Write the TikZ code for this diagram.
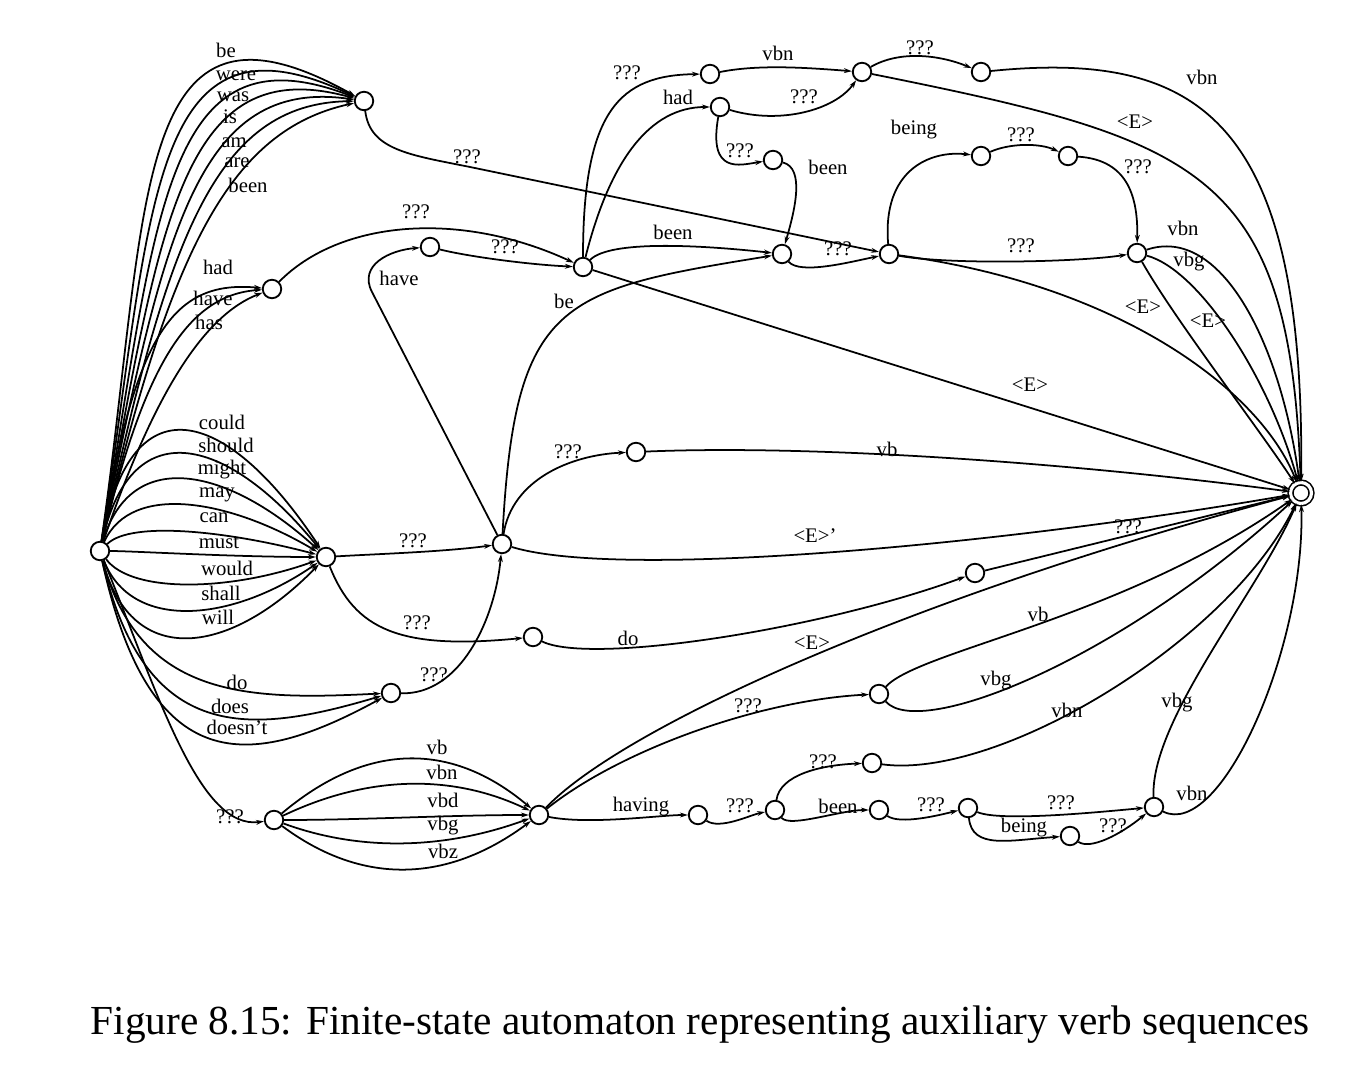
\documentclass[tikz,border=0pt]{standalone}
\usepackage{fontspec}
\setmainfont{Liberation Serif}
\usetikzlibrary{arrows.meta}
\begin{document}
\begin{tikzpicture}[x=0.02cm,y=-0.02cm,
  st/.style={circle,draw,line width=1.05pt,minimum size=0.37cm,inner sep=0pt,fill=white},
  fin/.style={circle,draw,line width=0.9pt,double,double distance=1.8pt,minimum size=0.42cm,inner sep=0pt,fill=white},
  e/.style={line width=1pt,-{Stealth[length=4.5pt,width=2.8pt]}},
  lb/.style={font=\fontsize{11.8}{13}\selectfont,inner sep=0pt},
  captext/.style={font=\fontsize{23.5}{28}\selectfont,inner sep=0pt}]
\fill[white] (0,0) rectangle (1366,1070);
\useasboundingbox (0,0) rectangle (1366,1070);
% states
\node[st] (S) at (100,551) {};
\node[st] (B) at (364,101) {};
\node[st] (H) at (272,289) {};
\node[st] (M) at (326,557) {};
\node[st] (D) at (391,693) {};
\node[st] (Q) at (274,820) {};
\node[fin] (F) at (1301,493) {};
\node[st] (A1) at (430,247) {};
\node[st] (N1) at (583,267) {};
\node[st] (N2) at (710,74) {};
\node[st] (N3) at (720,107) {};
\node[st] (N4) at (862,72) {};
\node[st] (N5) at (981,72) {};
\node[st] (N6) at (773,160) {};
\node[st] (N7) at (782,254) {};
\node[st] (N8) at (889,254) {};
\node[st] (N9) at (981,156) {};
\node[st] (N10) at (1068,156) {};
\node[st] (N11) at (1137,253) {};
\node[st] (P) at (502,544) {};
\node[st] (V1) at (636,452) {};
\node[st] (Do1) at (533,637) {};
\node[st] (R1) at (975,573) {};
\node[st] (G1) at (879,694) {};
\node[st] (T) at (539,815) {};
\node[st] (K1) at (698,815) {};
\node[st] (K2) at (775,810) {};
\node[st] (K3) at (872,763) {};
\node[st] (K4) at (879,810) {};
\node[st] (K5) at (968,808) {};
\node[st] (K6) at (1070,836) {};
\node[st] (K7) at (1154,807) {};
\coordinate (bk) at (470,167);
\coordinate (hk) at (372,292);
% fans from the start state
\foreach \a/\b/\c/\d in {150/200/130/-30, 153/208/147/-3, 157/217/163/23, 160/225/180/50, 163/233/197/77, 167/242/213/103, 170/250/230/130}
  \draw[e] (S) .. controls (\a,\b) and (\c,\d) .. (B);
\foreach \a/\b/\c/\d in {135/330/175/280, 145/360/190/295, 155/390/205/315}
  \draw[e] (S) .. controls (\a,\b) and (\c,\d) .. (H);
\foreach \b/\d in {372/414, 406/441, 443/471, 481/501, 520/532, 551/557, 594/591, 632/622, 672/654}
  \draw[e] (S) .. controls (132,\b) and (232,\d) .. (M);
\foreach \a/\b/\c/\d in {140/700/250/700, 145/745/250/735, 150/780/250/770}
  \draw[e] (S) .. controls (\a,\b) and (\c,\d) .. (D);
\draw[e] (S) .. controls (160,700) and (200,830) .. (Q);
\foreach \b/\d in {744/739, 777/772, 820/815, 853/848, 887/882}
  \draw[e] (Q) .. controls (364,\b) and (449,\d) .. (T);
% upper part
\draw[e] (B) .. controls (370,150) and (410,155) .. (bk) -- (N8);
\draw[e] (H) .. controls (340,220) and (460,210) .. (N1);
\draw[e] (A1) .. controls (470,257) and (533,265) .. (N1);
\draw[e] (P) -- (hk) .. controls (358,265) and (390,250) .. (A1);
\draw[e] (P) .. controls (515,300) and (560,290) .. (N7);
\draw[e] (N1) .. controls (583,110) and (620,75) .. (N2);
\draw[e] (N1) .. controls (610,160) and (650,107) .. (N3);
\draw[e] (N1) .. controls (610,240) and (700,245) .. (N7);
\draw[e] (N1) -- (F);
\draw[e] (N2) .. controls (760,64) and (810,68) .. (N4);
\draw[e] (N3) .. controls (780,125) and (835,110) .. (N4);
\draw[e] (N3) .. controls (708,175) and (740,165) .. (N6);
\draw[e] (N6) .. controls (805,168) and (795,210) .. (N7);
\draw[e] (N4) .. controls (900,50) and (940,55) .. (N5);
\draw[e] (N4) .. controls (1200,140) and (1290,170) .. (F);
\draw[e] (N5) .. controls (1200,50) and (1305,120) .. (F);
\draw[e] (N7) .. controls (800,275) and (850,262) .. (N8);
\draw[e] (N8) .. controls (882,170) and (930,150) .. (N9);
\draw[e] (N9) .. controls (1010,143) and (1040,143) .. (N10);
\draw[e] (N10) .. controls (1130,160) and (1138,200) .. (N11);
\draw[e] (N8) .. controls (950,265) and (1080,262) .. (N11);
\draw[e] (N8) .. controls (1120,285) and (1260,390) .. (F);
\draw[e] (N11) .. controls (1220,225) and (1280,340) .. (F);
\draw[e] (N11) .. controls (1200,270) and (1270,380) .. (F);
\draw[e] (N11) .. controls (1175,320) and (1260,430) .. (F);
% middle part
\draw[e] (M) .. controls (376,554) and (442,552) .. (P);
\draw[e] (M) .. controls (355,630) and (400,650) .. (Do1);
\draw[e] (D) .. controls (460,695) and (495,620) .. (P);
\draw[e] (P) .. controls (512,480) and (570,455) .. (V1);
\draw[e] (V1) .. controls (800,445) and (1050,460) .. (F);
\draw[e] (P) .. controls (620,580) and (1000,545) .. (F);
\draw[e] (Do1) .. controls (590,665) and (820,630) .. (R1);
\draw[e] (R1) -- (F);
% lower part
\draw[e] (T) .. controls (620,730) and (900,600) .. (F);
\draw[e] (T) .. controls (620,750) and (760,700) .. (G1);
\draw[e] (G1) .. controls (920,650) and (1120,620) .. (F);
\draw[e] (G1) .. controls (920,740) and (1120,660) .. (F);
\draw[e] (T) .. controls (590,825) and (660,815) .. (K1);
\draw[e] (K1) .. controls (720,830) and (750,815) .. (K2);
\draw[e] (K2) .. controls (780,775) and (820,765) .. (K3);
\draw[e] (K2) .. controls (790,828) and (840,810) .. (K4);
\draw[e] (K3) .. controls (1000,780) and (1230,640) .. (F);
\draw[e] (K4) .. controls (900,825) and (940,815) .. (K5);
\draw[e] (K5) .. controls (1000,822) and (1100,812) .. (K7);
\draw[e] (K5) .. controls (972,850) and (1010,840) .. (K6);
\draw[e] (K6) .. controls (1090,850) and (1120,835) .. (K7);
\draw[e] (K7) .. controls (1150,720) and (1260,590) .. (F);
\draw[e] (K7) .. controls (1220,840) and (1305,650) .. (F);
% labels
\foreach \x/\y/\txt [count=\i] in {
 226/50/be, 236/76/were, 233/97/was, 230/117/is, 234/143/am, 237/163/are, 248/185/been,
 218/267/had, 213/298/have, 209/322/has,
 222/422/could, 226/445/should, 222/470/might, 217/495/may, 214/518/can, 219/543/must, 227/568/would, 221/593/shall, 218/617/will,
 237/682/do, 230/706/does, 237/727/doesn't, 230/817/???,
 437/747/vb, 442/772/vbn, 443/800/vbd, 443/826/vbg, 443/851/vbz,
 467/157/???, 416/212/???, 505/247/???, 399/278/have, 564/301/be,
 627/73/???, 678/97/had, 673/232/been, 1030/385/<E>, 778/53/vbn, 804/97/???, 740/151/???, 828/167/been, 838/249/???,
 920/48/???, 1135/122/<E>, 1202/77/vbn, 914/130/being, 1021/135/???, 1138/167/???, 1021/246/???, 1143/307/<E>,
 1183/228/vbn, 1189/262/vbg, 1208/321/<E>,
 413/541/???, 417/623/???, 434/675/???, 568/452/???, 887/449/vb, 815/536/<E>', 628/638/do, 1128/527/???,
 812/643/<E>, 748/706/???, 1038/614/vb, 996/681/vbg,
 641/807/having, 740/806/???, 823/762/???, 838/806/been, 1067/710/vbn, 931/805/???, 1061/803/???, 1024/828/being, 1113/826/???,
 1177/703/vbg, 1192/793/vbn}
  \node[lb] (lab\i) at (\x,\y) {\txt};
\node[captext] (caption) at (700,1025) {Figure 8.15: Finite-state automaton representing auxiliary verb sequences};
\end{tikzpicture}
\end{document}
